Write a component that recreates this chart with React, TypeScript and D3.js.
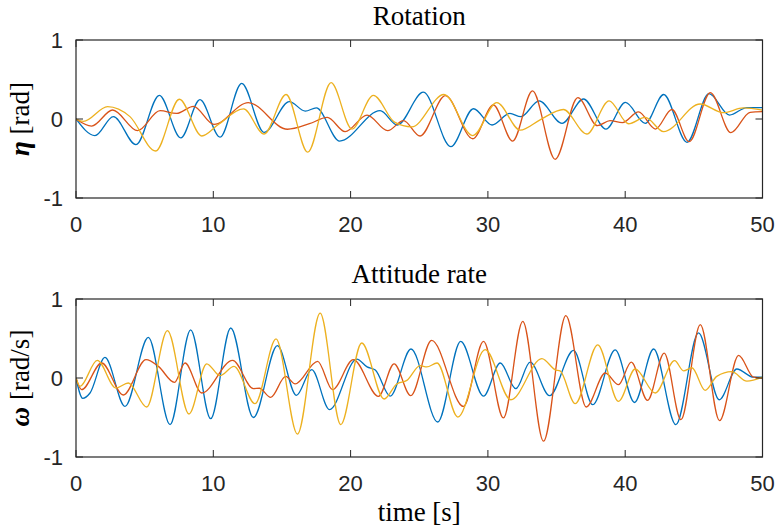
import React from "react";
import * as d3 from "d3";

// ---- data (time [s], value) ----
const xTicks = [0, 10, 20, 30, 40, 50];
const yTicks = [-1, 0, 1];
const seriesColors = ["#0072BD", "#D95319", "#EDB120"];

const rotBlue: [number, number][] = [
  [0, 0], [1.38, -0.21], [2.72, 0.03], [4.37, -0.325], [6.07, 0.3], [7.63, -0.24], [9.03, 0.245],
  [10.49, -0.23], [12.07, 0.45], [13.7, -0.17], [15.54, 0.22], [16.7, 0.1], [17.5, 0.14], [19.2, -0.28],
  [22.15, 0.105], [23.4, -0.076], [25.3, 0.34], [27.3, -0.35], [28.95, 0.13], [30.3, -0.076],
  [31.6, 0.07], [32.4, 0.03], [33.73, 0.23], [35.4, -0.055], [36.96, 0.253], [38.6, -0.127],
  [40.02, 0.21], [41.46, -0.055], [42.8, 0.31], [44.5, -0.295], [46.1, 0.32], [47.6, 0.05],
  [48.86, 0.145], [50, 0.145],
];
const rotOrange: [number, number][] = [
  [0, 0], [1.14, -0.089], [2.67, 0.114], [4.49, -0.148], [6.12, 0.105], [7.33, 0.07], [8.55, 0.16],
  [10.05, -0.068], [12.55, 0.207], [15.4, -0.13], [17.0, -0.06], [18.3, 0.02], [19.6, -0.16],
  [21.2, 0.05], [22.7, -0.148], [23.85, -0.02], [25.06, -0.215], [26.9, 0.295], [28.9, -0.25],
  [30.4, 0.177], [31.8, -0.28], [33.25, 0.355], [34.9, -0.51], [36.55, 0.27], [37.98, -0.085],
  [38.9, -0.02], [39.8, -0.045], [40.97, 0.09], [42.2, -0.127], [43.4, 0.12], [44.66, -0.287],
  [46.2, 0.335], [47.7, -0.173], [49.1, 0.085], [50, 0.093],
];
const rotYellow: [number, number][] = [
  [0, 0], [0.54, -0.03], [2.3, 0.156], [3.93, 0.03], [5.8, -0.405], [7.53, 0.25], [9.16, -0.215],
  [10.37, -0.07], [12.2, 0.127], [13.7, -0.19], [15.3, 0.31], [16.88, -0.42], [18.58, 0.46],
  [20.1, -0.127], [21.66, 0.3], [23.2, -0.04], [24.45, -0.1], [26.8, 0.31], [28.9, -0.21],
  [30.65, 0.207], [32.35, -0.14], [33.8, -0.01], [35.5, 0.12], [37.2, -0.19], [38.83, 0.23],
  [40.24, -0.06], [41.46, 0.02], [42.8, -0.16], [45.46, 0.19], [47.16, 0.08], [48.6, 0.14],
  [50, 0.113],
];

const rateBlue: [number, number][] = [
  [0, 0], [0.49, -0.258], [1.02, -0.19], [2.11, 0.26], [3.57, -0.36], [5.27, 0.514], [6.85, -0.59],
  [8.35, 0.61], [9.81, -0.515], [11.27, 0.633], [12.92, -0.5], [14.67, 0.41], [16.05, -0.22],
  [17.17, 0.105], [18.46, -0.4], [20.45, 0.24], [21.2, 0.14], [21.8, 0.1], [22.88, -0.23],
  [24.4, 0.367], [26.35, -0.557], [28.02, 0.463], [29.68, -0.23], [30.9, 0.19], [32.03, -0.135],
  [33.08, 0.2], [34.49, -0.224], [36.24, 0.35], [37.64, -0.338], [39.27, 0.355], [40.68, -0.31],
  [42.07, 0.367], [43.69, -0.59], [45.34, 0.57], [46.85, -0.275], [48.13, 0.114], [49.35, 0.01],
  [50, 0.01],
];
const rateOrange: [number, number][] = [
  [0, 0], [0.41, -0.148], [1.87, 0.19], [3.45, -0.215], [5.1, 0.232], [6.0, 0.147], [7.17, -0.055],
  [7.94, 0.19], [9.16, -0.19], [11.41, 0.223], [12.92, -0.135], [13.36, -0.13], [14.18, -0.245],
  [15.27, 0.02], [15.96, -0.075], [17.6, 0.21], [18.68, -0.148], [20.2, 0.232], [22.03, -0.232],
  [23.17, 0.18], [24.38, -0.224], [25.9, 0.476], [28.22, -0.36], [29.68, 0.463], [31.13, -0.506],
  [32.54, 0.717], [34.05, -0.8], [35.68, 0.789], [37.16, -0.367], [38.55, 0.063], [39.51, -0.085],
  [40.44, 0.2], [41.63, -0.283], [42.84, 0.316], [44.06, -0.528], [45.47, 0.675], [46.87, -0.54],
  [48.26, 0.286], [49.35, 0.01], [50, 0],
];
const rateYellow: [number, number][] = [
  [0, 0], [0.29, -0.106], [1.55, 0.223], [2.91, -0.127], [3.81, -0.063], [5.15, -0.367],
  [6.66, 0.6], [8.23, -0.456], [9.52, 0.18], [10.49, 0.03], [11.51, 0.147], [13.04, -0.325],
  [14.57, 0.494], [16.13, -0.71], [17.78, 0.82], [19.28, -0.59], [20.81, 0.443], [22.44, -0.266],
  [23.36, -0.075], [24.1, -0.03], [25.07, 0.156], [25.55, 0.14], [26.3, 0.19], [27.81, -0.494],
  [29.8, 0.358], [31.67, -0.275], [33.93, 0.244], [34.95, 0.1], [35.25, 0.09], [36.36, -0.325],
  [38.0, 0.42], [39.51, -0.296], [40.73, 0.114], [42.19, -0.19], [43.6, 0.22], [44.25, 0.09],
  [44.86, 0.13], [45.82, -0.157], [46.67, 0.02], [47.76, 0.08], [48.86, -0.04], [50, 0.01],
];

// ---- layout ----
const W = 778;
const H = 531;
const left = 76;
const right = 762.5;
const axisColor = "#262626";
const tickLen = 7;
const serif = "'Liberation Serif', 'DejaVu Serif', serif";
const sans = "'Liberation Sans', Arial, Helvetica, sans-serif";

type Panel = {
  id: string;
  top: number;
  bottom: number;
  title: string;
  titleY: number;
  sym: string;
  unit: string;
  series: [number, number][][];
};

const panels: Panel[] = [
  { id: "rot", top: 40, bottom: 198, title: "Rotation", titleY: 25, sym: "η", unit: " [rad]", series: [rotBlue, rotOrange, rotYellow] },
  { id: "rate", top: 299, bottom: 457, title: "Attitude rate", titleY: 283, sym: "ω", unit: " [rad/s]", series: [rateBlue, rateOrange, rateYellow] },
];

const x = d3.scaleLinear().domain([0, 50]).range([left, right]);

function PanelView({ p }: { p: Panel }) {
  const y = d3.scaleLinear().domain([-1, 1]).range([p.bottom, p.top]);
  const line = d3
    .line<[number, number]>()
    .x((d) => x(d[0]))
    .y((d) => y(d[1]))
    .curve(d3.curveMonotoneX);
  const midY = (p.top + p.bottom) / 2;
  return (
    <g>
      <defs>
        <clipPath id={`clip-${p.id}`}>
          <rect x={left} y={p.top} width={right - left} height={p.bottom - p.top} />
        </clipPath>
      </defs>
      <g clipPath={`url(#clip-${p.id})`}>
        {p.series.map((s, i) => (
          <path key={i} d={line(s) || ""} fill="none" stroke={seriesColors[i]} strokeWidth={1.3} />
        ))}
      </g>
      {/* box */}
      <rect x={left} y={p.top} width={right - left} height={p.bottom - p.top} fill="none" stroke={axisColor} strokeWidth={1.2} />
      {/* x ticks */}
      {xTicks.map((t) => (
        <g key={`x${t}`}>
          <line x1={x(t)} x2={x(t)} y1={p.bottom} y2={p.bottom - tickLen} stroke={axisColor} strokeWidth={1} />
          <line x1={x(t)} x2={x(t)} y1={p.top} y2={p.top + tickLen} stroke={axisColor} strokeWidth={1} />
          <text x={x(t)} y={p.bottom + 34} textAnchor="middle" fontFamily={sans} fontSize={22} fill={axisColor}>
            {t}
          </text>
        </g>
      ))}
      {/* y ticks */}
      {yTicks.map((t) => (
        <g key={`y${t}`}>
          <line x1={left} x2={left + tickLen} y1={y(t)} y2={y(t)} stroke={axisColor} strokeWidth={1} />
          <line x1={right} x2={right - tickLen} y1={y(t)} y2={y(t)} stroke={axisColor} strokeWidth={1} />
          <text x={63} y={y(t)} dy="0.36em" textAnchor="end" fontFamily={sans} fontSize={22} fill={axisColor}>
            {t}
          </text>
        </g>
      ))}
      {/* title */}
      <text x={(left + right) / 2} y={p.titleY} textAnchor="middle" fontFamily={serif} fontSize={27} fill="#000">
        {p.title}
      </text>
      {/* y label */}
      <text
        transform={`translate(29,${midY}) rotate(-90)`}
        textAnchor="middle"
        fontFamily={serif}
        fontSize={27}
        fill="#000"
      >
        <tspan fontWeight="bold" fontStyle="italic">{p.sym}</tspan>
        <tspan>{p.unit}</tspan>
      </text>
    </g>
  );
}

export default function App() {
  return (
    <svg
      width={W}
      height={H}
      viewBox={`0 0 ${W} ${H}`}
      style={{ position: "absolute", left: 0, top: 0, background: "#fff" }}
    >
      <rect x={0} y={0} width={W} height={H} fill="#fff" />
      {panels.map((p) => (
        <PanelView key={p.id} p={p} />
      ))}
      <text x={(left + right) / 2} y={521} textAnchor="middle" fontFamily={serif} fontSize={27} fill="#000">
        time [s]
      </text>
    </svg>
  );
}
